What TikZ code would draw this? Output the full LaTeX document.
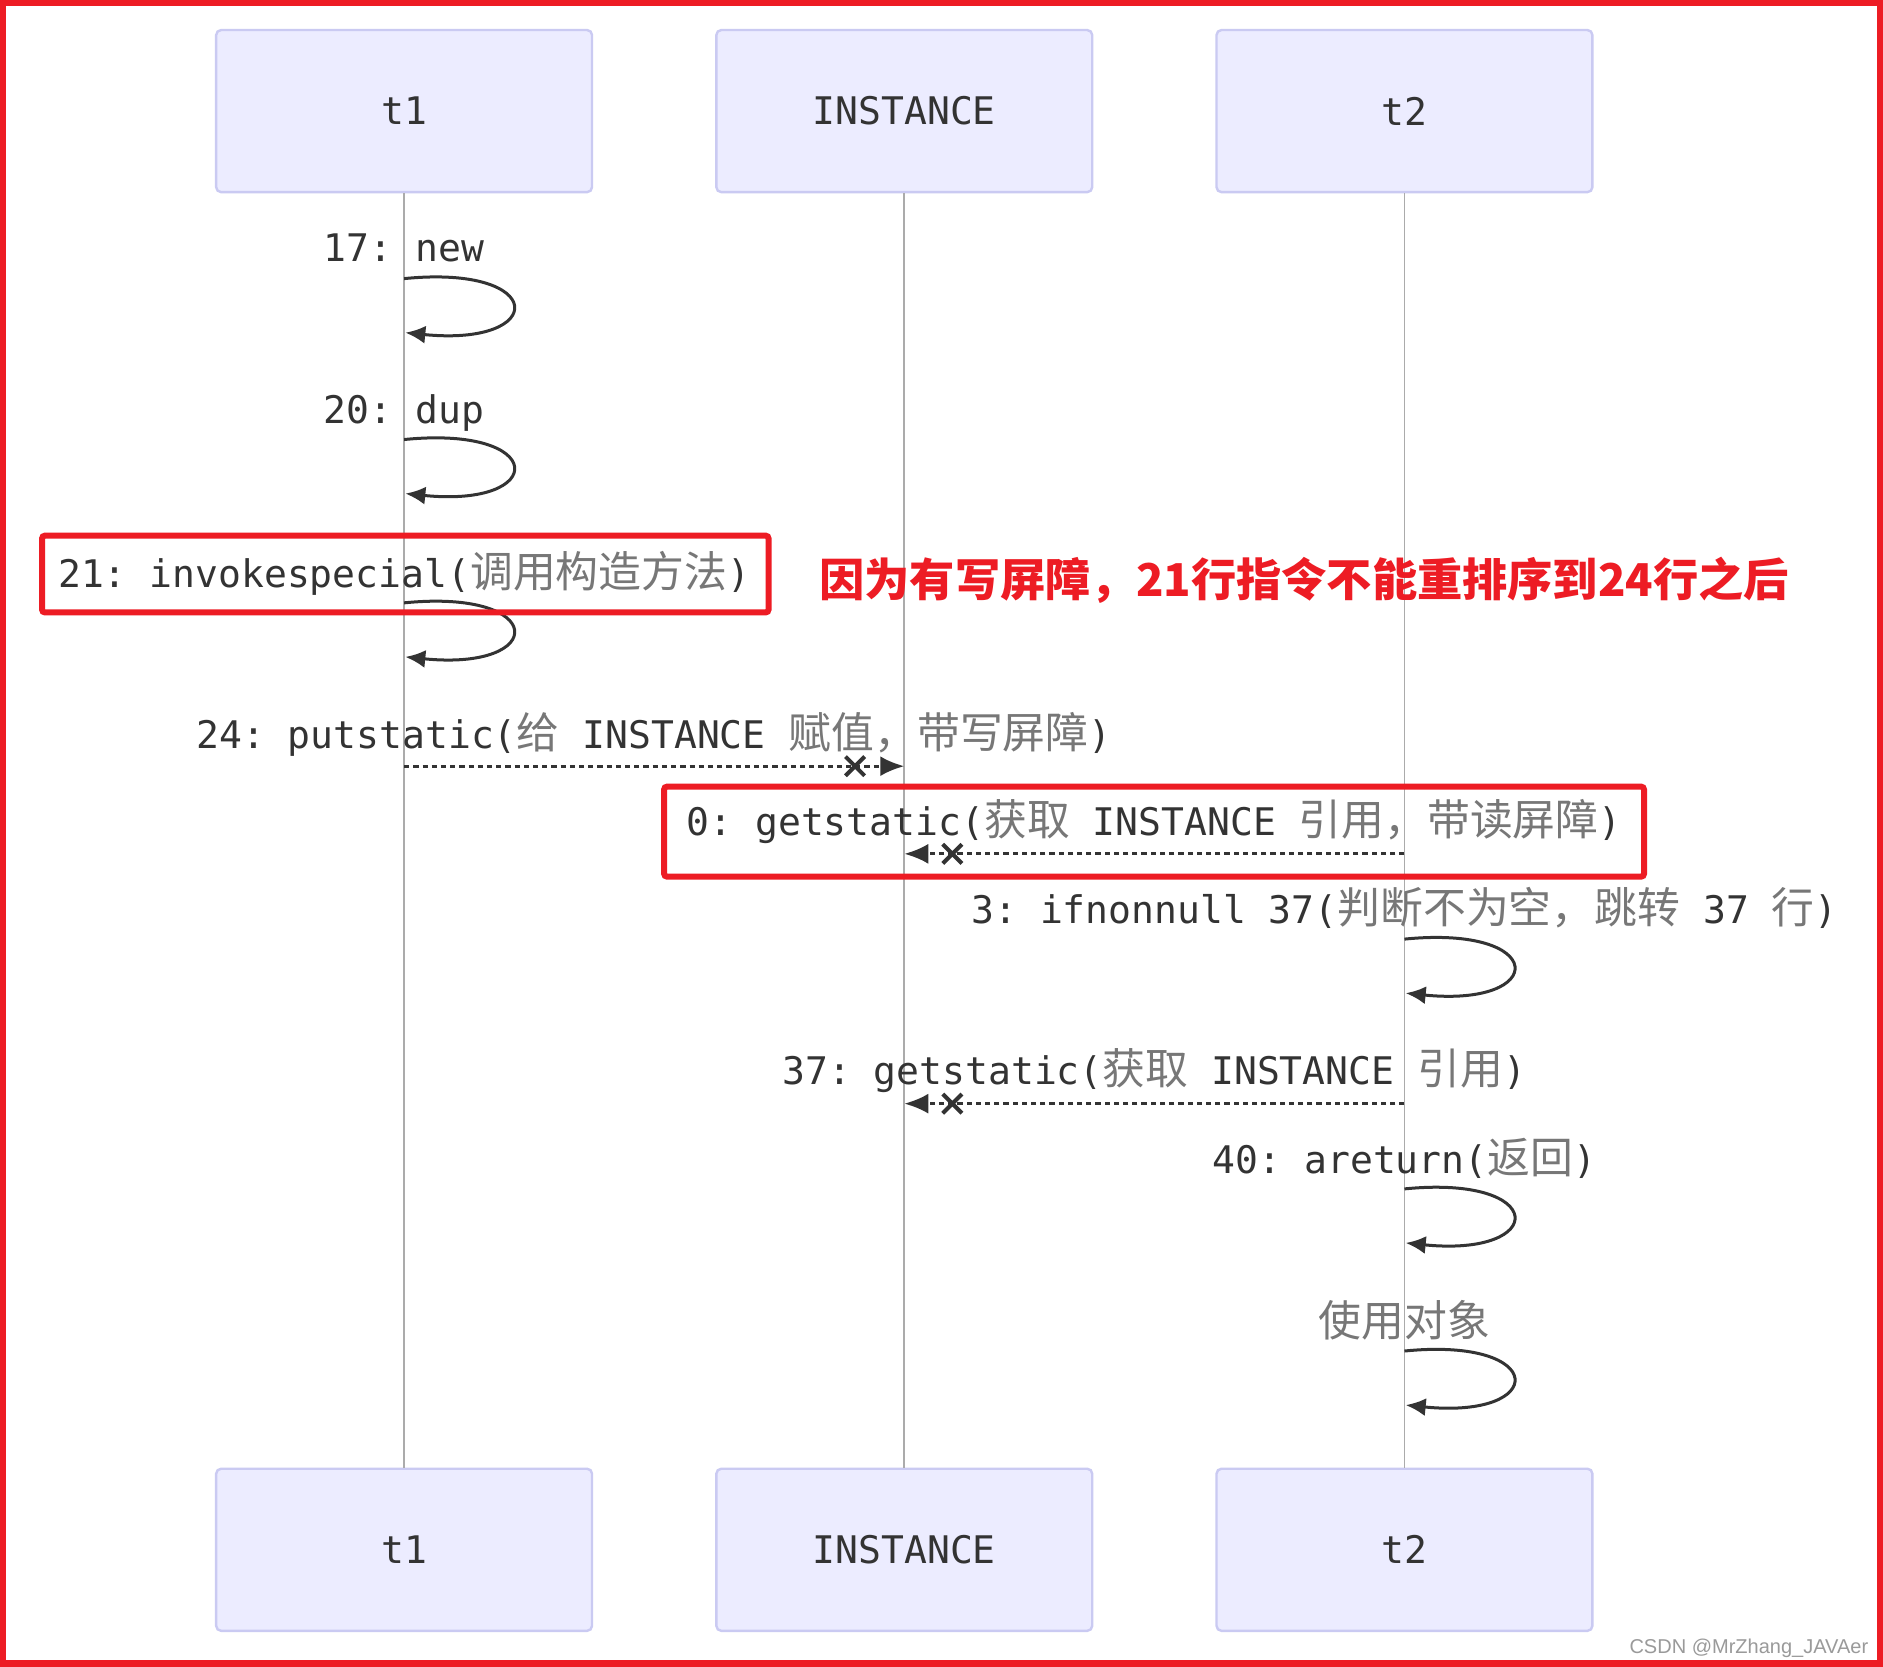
\documentclass[tikz,border=0pt]{standalone}
\usepackage{fontspec}
\setmonofont{DejaVu Sans Mono}
\newfontfamily\cjk{Noto Sans CJK SC}
\newfontfamily\wmfont{Liberation Sans}
\usetikzlibrary{arrows.meta,calc}
\definecolor{boxfill}{HTML}{ECECFF}
\definecolor{boxline}{HTML}{CACAF2}
\definecolor{framered}{HTML}{ED1C24}
\definecolor{ink}{HTML}{333333}
\definecolor{zhgray}{HTML}{777777}
\definecolor{lifegray}{HTML}{ABABAB}
\definecolor{wmgray}{HTML}{9A9A9A}
\newcommand{\zh}[1]{{\cjk\fontsize{21.4}{24}\selectfont\color{zhgray}#1}}
\tikzset{
  x=0.6pt, y=-0.6pt,
  actor/.style={draw=boxline, line width=1.2pt, fill=boxfill, rounded corners=2.5pt,
    minimum width=187.8pt, minimum height=81pt, inner sep=0pt,
    font=\ttfamily\fontsize{19}{23}\selectfont, text=ink},
  lbl/.style={anchor=base, inner sep=0pt, font=\ttfamily\fontsize{19}{23}\selectfont, text=ink},
  lifeline/.style={draw=lifegray, line width=0.8pt},
  selfloop/.style={draw=ink, line width=1.5pt, -{Latex[length=10pt,width=9pt]}},
  msgline/.style={draw=ink, line width=1.5pt, dash pattern=on 2.6pt off 2pt, -{Latex[length=12pt,width=10pt]}},
  crossline/.style={draw=ink, line width=2pt},
  redbox/.style={draw=framered, line width=3pt, rounded corners=1.5pt},
}
\newcommand{\xmark}[1]{\draw[crossline] ($(#1)+(-8,-8)$) -- ($(#1)+(8,8)$) ($(#1)+(-8,8)$) -- ($(#1)+(8,-8)$);}
\newcommand{\loopfrom}[1]{\draw[selfloop] (#1) .. controls ($(#1)+(120,-12)$) and ($(#1)+(120,57)$) .. ($(#1)+(1,45)$);}
\begin{document}
\begin{tikzpicture}
\useasboundingbox (0,0) rectangle (1568,1388);
\fill[white] (0,0) rectangle (1568,1388);

% participants
\node[actor] (t1top) at (336.5,92.5) {t1};
\node[actor] (itop) at (753,92.5) {INSTANCE};
\node[actor] (t2top) at (1169.5,92.5) {t2};
\node[actor] (t1bot) at (336.5,1290.5) {t1};
\node[actor] (ibot) at (753,1290.5) {INSTANCE};
\node[actor] (t2bot) at (1169.5,1290.5) {t2};

% lifelines
\draw[lifeline] (t1top.south) -- (t1bot.north);
\draw[lifeline] (itop.south) -- (ibot.north);
\draw[lifeline] (t2top.south) -- (t2bot.north);

% self messages
\coordinate (l17) at (336.5,232);
\coordinate (l20) at (336.5,366);
\coordinate (l21) at (336.5,502);
\coordinate (l3) at (1169.5,782);
\coordinate (l40) at (1169.5,990);
\coordinate (luse) at (1169.5,1125);
\loopfrom{l17}
\loopfrom{l20}
\loopfrom{l21}
\loopfrom{l3}
\loopfrom{l40}
\loopfrom{luse}

% async messages
\coordinate (p24a) at (336.5,638);
\coordinate (p24b) at (753,638);
\draw[msgline] (p24a) -- (p24b);
\coordinate (x24) at (712,638);
\xmark{x24}

\coordinate (g0a) at (1169.5,711);
\coordinate (g0b) at (753,711);
\draw[msgline] (g0a) -- (g0b);
\coordinate (x0) at (793,711);
\xmark{x0}

\coordinate (g37a) at (1169.5,919);
\coordinate (g37b) at (753,919);
\draw[msgline] (g37a) -- (g37b);
\coordinate (x37) at (793,919);
\xmark{x37}

% labels
\node[lbl] (n17) at (336.5,218) {17: new};
\node[lbl] (n20) at (336.5,353) {20: dup};
\node[lbl] (n21) at (336.5,489) {21: invokespecial(\zh{调用构造方法})};
\node[lbl] (n24) at (544.5,623) {24: putstatic(\zh{给} INSTANCE \zh{赋值，带写屏障})};
\node[lbl] (n0) at (961,696) {0: getstatic(\zh{获取} INSTANCE \zh{引用，带读屏障})};
\node[lbl] (n3) at (1169.5,769) {3: ifnonnull 37(\zh{判断不为空，跳转} 37 \zh{行})};
\node[lbl] (n37) at (961,903) {37: getstatic(\zh{获取} INSTANCE \zh{引用})};
\node[lbl] (n40) at (1169.5,977) {40: areturn(\zh{返回})};
\node[lbl] (nuse) at (1169.5,1113) {\zh{使用对象}};

% annotations
\draw[redbox] (35,446) rectangle (640,510);
\draw[redbox] (553,655) rectangle (1369,730);
\node[anchor=base, inner sep=0pt, text=framered, font=\cjk\bfseries\fontsize{22.6}{26}\selectfont] (note) at (1086,497) {因为有写屏障，21行指令不能重排序到24行之后};

% watermark
\node[anchor=base east, inner sep=0pt, text=wmgray, font=\wmfont\fontsize{10}{12}\selectfont] (wm) at (1556,1377) {CSDN @MrZhang\_JAVAer};

% frame
\draw[framered, line width=3.2pt] (2.7,2.7) rectangle (1565.3,1385.3);
\end{tikzpicture}
\end{document}
